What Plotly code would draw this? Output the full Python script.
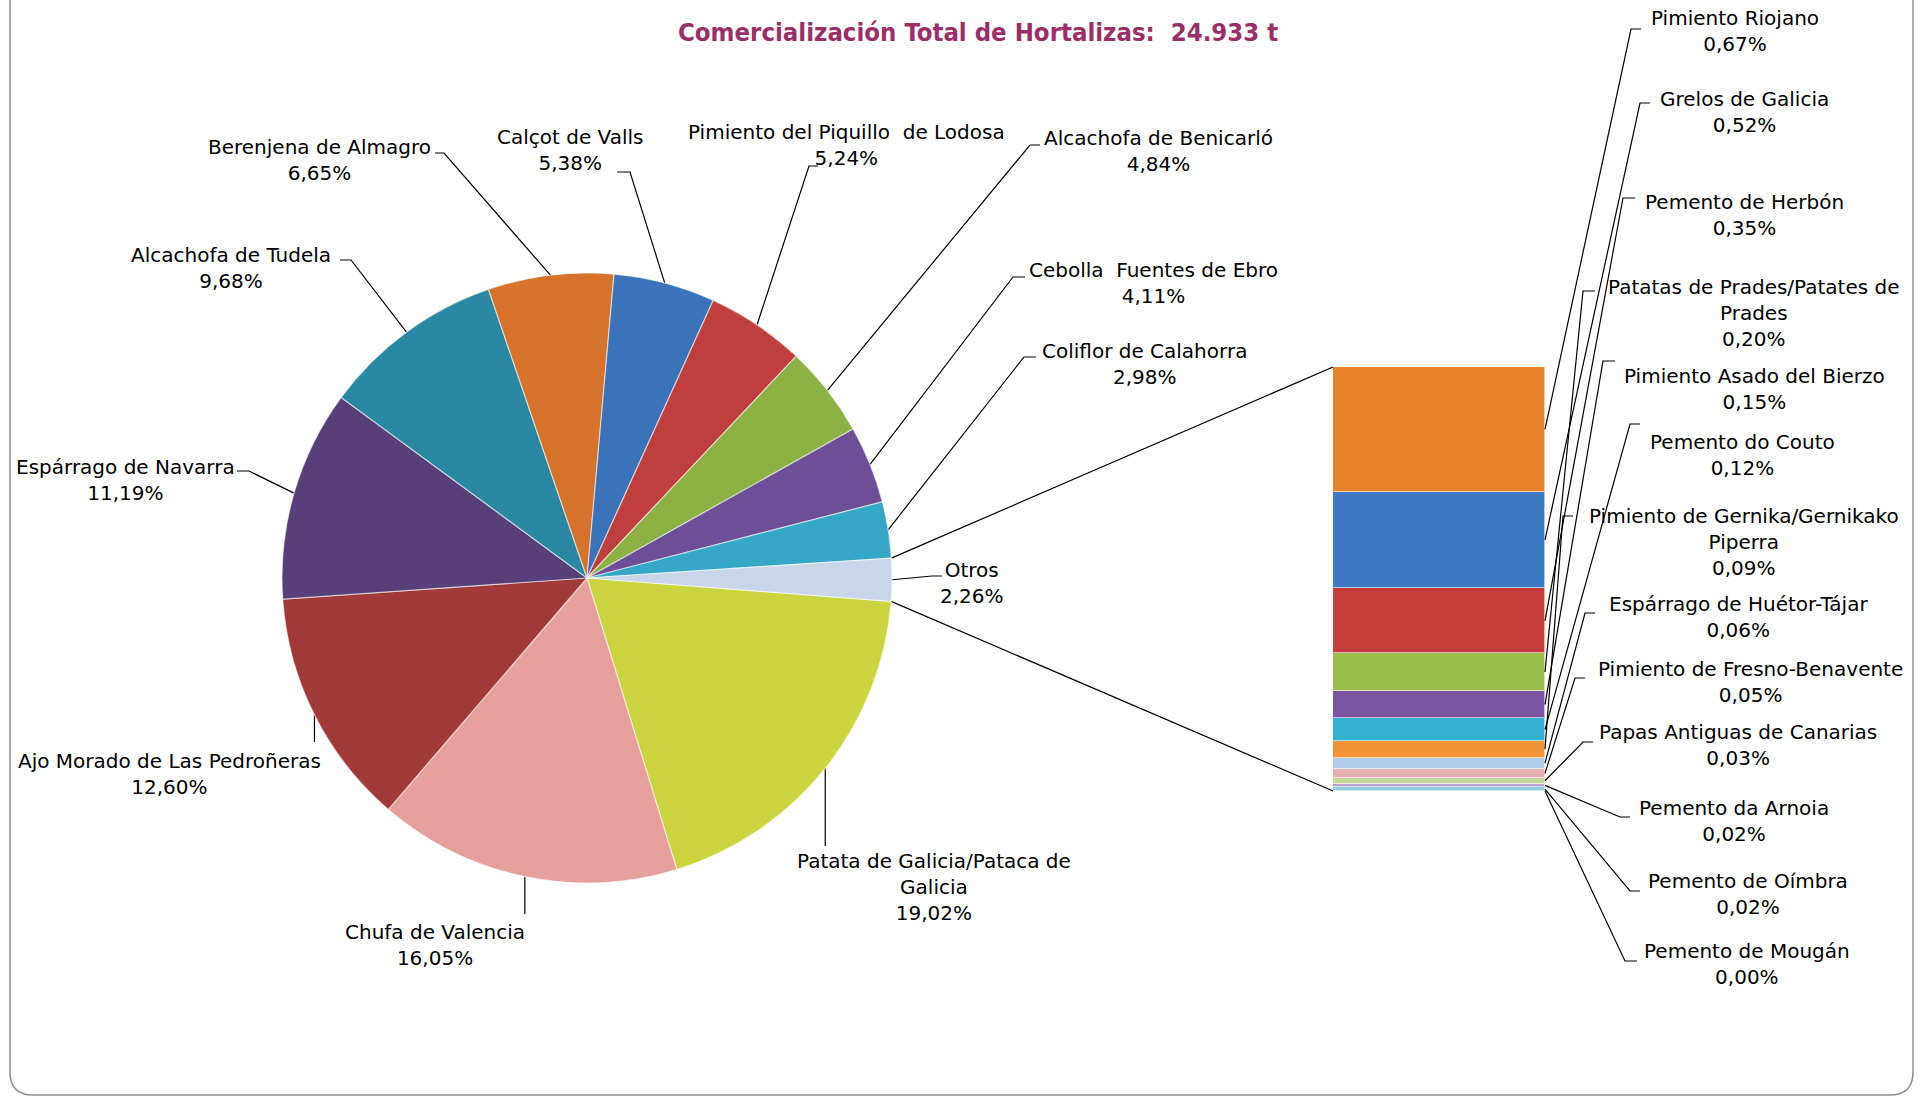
import math
import plotly.graph_objects as go

# Comercialización de hortalizas con figura de calidad - pie of bar (Excel style)
W, H = 1923, 1100

titulo = "Comercialización Total de Hortalizas:\u00a0 24.933 t"

pie_labels = ["Patata de Galicia/Pataca de<br>Galicia", "Chufa de Valencia",
              "Ajo Morado de Las Pedroñeras", "Espárrago de Navarra",
              "Alcachofa de Tudela", "Berenjena de Almagro", "Calçot de Valls",
              "Pimiento del Piquillo\u00a0 de Lodosa", "Alcachofa de Benicarló",
              "Cebolla\u00a0 Fuentes de Ebro", "Coliflor de Calahorra", "Otros"]
pie_values = [19.02, 16.05, 12.60, 11.19, 9.68, 6.65, 5.38, 5.24, 4.84, 4.11, 2.98, 2.26]
pie_colors = ["#cbd53f", "#e5a09e", "#a0393a", "#574078", "#2b88a4", "#d6722a",
              "#3b73bb", "#bf3f3c", "#8db144", "#6c4f96", "#36a7c7", "#c9d5e8"]

bar_labels = ["Pimiento Riojano", "Grelos de Galicia", "Pemento de Herbón",
              "Patatas de Prades/Patates de<br>Prades", "Pimiento Asado del Bierzo",
              "Pemento do Couto", "Pimiento de Gernika/Gernikako<br>Piperra",
              "Espárrago de Huétor-Tájar", "Pimiento de Fresno-Benavente",
              "Papas Antiguas de Canarias", "Pemento da Arnoia", "Pemento de Oímbra",
              "Pemento de Mougán"]
bar_values = [0.67, 0.52, 0.35, 0.20, 0.15, 0.12, 0.09, 0.06, 0.05, 0.03, 0.02, 0.02, 0.00]
bar_colors = ["#e8812c", "#3e79c4", "#c43d3b", "#9bbf4b", "#7a56a0", "#33b0cf",
              "#f09235", "#b3cce8", "#e6b1b0", "#c4d89e", "#b4a4cb", "#92cddc", "#f9be8e"]

# layout (pixels)
PIE_CX, PIE_CY, R = 587, 578, 305
PIE_ROT = 94.4
BAR_X0, BAR_X1, BAR_TOP, BAR_BOT = 1333, 1545, 367, 791

FONT = "DejaVu Sans, Verdana, sans-serif"
TITLE_FONT = "DejaVu Sans Condensed, DejaVu Sans, sans-serif"
FS = 20
LH = 13  # half line

# label placement: text centre x, first line centre y, stub x (to mark), stub x (to text), stub y
pie_lab_pos = [
    (934, 860, None, None, 846),
    (435, 931, None, None, 914),
    (169, 760, None, None, 742),
    (125, 466, 249, 237, 471),
    (231, 254, 351, 340, 260),
    (319, 146, 444, 435, 153),
    (570, 136, 630, 617, 172),
    (846, 131, 809, 818, 166),
    (1158, 137, 1030, 1040, 145),
    (1153, 269, 1013, 1025, 277),
    (1144, 350, 1024, 1036, 357),
    (972, 569, 932, 942, 576),
]
bar_lab_pos = [
    (1735, 17, 1631, 1641, 29),
    (1744, 98, 1640, 1650, 103),
    (1744, 201, 1623, 1635, 198),
    (1754, 286, 1583, 1595, 291),
    (1754, 375, 1603, 1615, 361),
    (1742, 441, 1630, 1640, 424),
    (1744, 515, 1563, 1573, 516),
    (1738, 603, 1585, 1595, 613),
    (1750, 668, 1575, 1585, 678),
    (1738, 731, 1583, 1593, 742),
    (1734, 807, 1620, 1630, 817),
    (1748, 880, 1630, 1640, 891),
    (1747, 950, 1625, 1637, 961),
]


def pct(v):
    return f"{v:.2f}".replace(".", ",") + "%"


def pie_point(ang):
    a = math.radians(ang)
    return PIE_CX + R * math.sin(a), PIE_CY - R * math.cos(a)


fig = go.Figure()

fig.add_trace(go.Pie(
    values=pie_values, labels=[l.replace("<br>", " ") for l in pie_labels],
    sort=False, direction="clockwise", rotation=PIE_ROT, textinfo="none",
    marker=dict(colors=pie_colors, line=dict(color="rgba(255,255,255,0.55)", width=1.2)),
    domain=dict(x=[(PIE_CX - R) / W, (PIE_CX + R) / W],
                y=[1 - (PIE_CY + R) / H, 1 - (PIE_CY - R) / H]),
    showlegend=False, hoverinfo="label+percent",
))

bar_total = sum(bar_values)
for name, v, c in reversed(list(zip(bar_labels, bar_values, bar_colors))):
    fig.add_trace(go.Bar(
        x=[0], y=[v], width=1, name=name.replace("<br>", " "),
        marker=dict(color=c, line=dict(color="rgba(255,255,255,0.6)", width=1)),
        xaxis="x2", yaxis="y2", showlegend=False,
    ))

# leader lines
lx, ly = [], []
tot = sum(pie_values)
cum = 0
for (cx, cy, xa, xb, sy), v in zip(pie_lab_pos, pie_values):
    mid = PIE_ROT + (cum + v / 2) / tot * 360
    cum += v
    px, py = pie_point(mid)
    if xa is None:
        lx += [px, px, None]
        ly += [py, sy, None]
    else:
        lx += [px, xa, xb, None]
        ly += [py, sy, sy, None]

cum = 0
for (cx, cy, xa, xb, sy), v in zip(bar_lab_pos, bar_values):
    my = BAR_TOP + (cum + v / 2) / bar_total * (BAR_BOT - BAR_TOP)
    cum += v
    lx += [BAR_X1, xa, xb, None]
    ly += [my, sy, sy, None]

# connectors pie -> bar
otros_start = PIE_ROT + (tot - pie_values[-1]) / tot * 360
p1 = pie_point(otros_start)
p2 = pie_point(PIE_ROT + 360)
lx += [p1[0], BAR_X0, None, p2[0], BAR_X0, None]
ly += [p1[1], BAR_TOP, None, p2[1], BAR_BOT, None]

fig.add_trace(go.Scatter(x=lx, y=ly, mode="lines", line=dict(color="black", width=1.2),
                         xaxis="x3", yaxis="y3", hoverinfo="skip", showlegend=False))

annotations = []
for (cx, cy, xa, xb, sy), name, v in zip(pie_lab_pos, pie_labels, pie_values):
    annotations.append(dict(x=cx, y=cy - LH, xref="x3", yref="y3", text=name + "<br>" + pct(v),
                            showarrow=False, xanchor="center", yanchor="top", align="center",
                            font=dict(family=FONT, size=FS, color="black")))
for (cx, cy, xa, xb, sy), name, v in zip(bar_lab_pos, bar_labels, bar_values):
    annotations.append(dict(x=cx, y=cy - LH, xref="x3", yref="y3", text=name + "<br>" + pct(v),
                            showarrow=False, xanchor="center", yanchor="top", align="center",
                            font=dict(family=FONT, size=FS, color="black")))
annotations.append(dict(x=978, y=32, xref="x3", yref="y3", text="<b>" + titulo + "</b>",
                        showarrow=False, xanchor="center", yanchor="middle",
                        font=dict(family=TITLE_FONT, size=25.5, color="#9a2f68")))

frame = "M 10,-5 L 10,1072 Q 10,1095 33,1095 L 1890,1095 Q 1913,1095 1913,1072 L 1913,-5"

hidden = dict(visible=False, fixedrange=True)
fig.update_layout(
    width=W, height=H, margin=dict(l=0, r=0, t=0, b=0, pad=0),
    paper_bgcolor="white", plot_bgcolor="rgba(0,0,0,0)",
    barmode="stack", bargap=0,
    xaxis=dict(visible=False),
    yaxis=dict(visible=False),
    xaxis2=dict(domain=[BAR_X0 / W, BAR_X1 / W], range=[-0.5, 0.5], anchor="y2", **hidden),
    yaxis2=dict(domain=[1 - BAR_BOT / H, 1 - BAR_TOP / H], range=[0, bar_total], anchor="x2", **hidden),
    xaxis3=dict(domain=[0, 1], range=[0, W], anchor="y3", **hidden),
    yaxis3=dict(domain=[0, 1], range=[H, 0], anchor="x3", **hidden),
    annotations=annotations,
    shapes=[dict(type="path", path=frame, xref="x3", yref="y3",
                 line=dict(color="#8e8e8e", width=1.5))],
)

fig.write_html("out.html", config={"displayModeBar": False},
               post_script="document.body.style.margin='0';")
